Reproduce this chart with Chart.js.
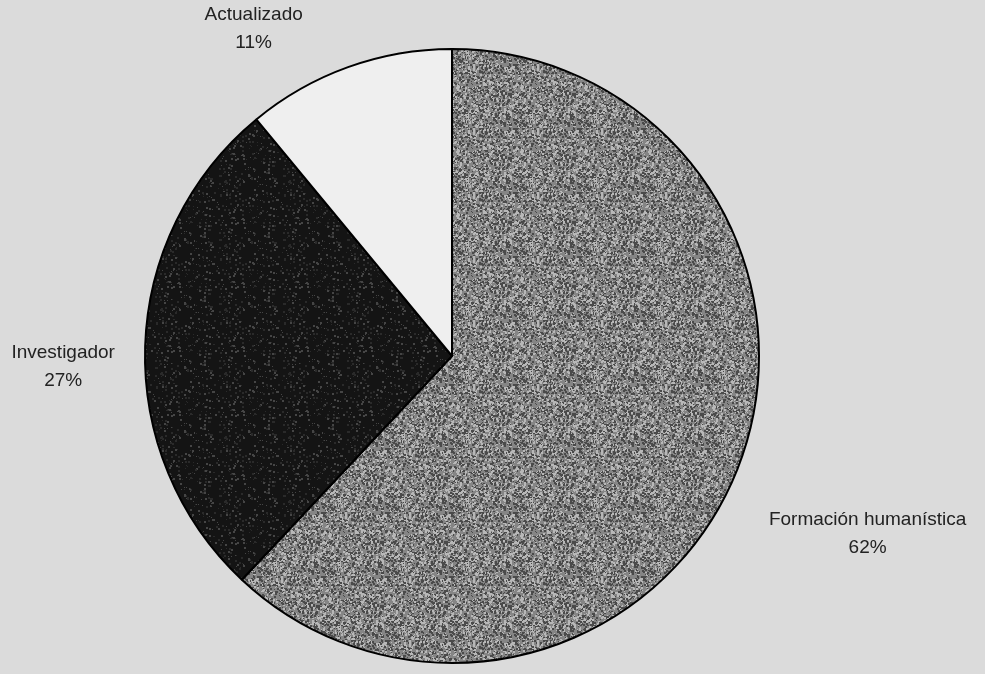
<!DOCTYPE html>
<html lang="es">
<head>
<meta charset="utf-8">
<title>Perfil</title>
<script src="https://cdn.jsdelivr.net/npm/chart.js@4.4.1/dist/chart.umd.min.js"></script>
<style>
    html, body { margin: 0; padding: 0; background: #dbdbdb; }
    #wrap { width: 985px; height: 674px; position: relative; }
</style>
</head>
<body>
<div id="wrap"><canvas id="pie" width="985" height="674"></canvas></div>
<script>
// --- Data ---
const categories = ['Formación humanística', 'Investigador', 'Actualizado'];
const percents = [62, 27, 11];

// label placement (distance past the rim, extra nudge) -- style only
const LABEL_PAD = [140, 80, 60];
const LABEL_SHIFT = [[0, 13], [-2, 23], [-74, 18]];

// --- Speckled fills (deterministic, like the scanned print texture) ---
function makeTexture(base, speck, amount) {
    const c = document.createElement('canvas');
    c.width = 64; c.height = 64;
    const g = c.getContext('2d');
    g.fillStyle = base;
    g.fillRect(0, 0, 64, 64);
    let seed = 12345;
    const next = () => { seed = (seed * 1103515245 + 12345) % 2147483648; return seed / 2147483648; };
    for (let i = 0; i < amount; i++) {
        const x = Math.floor(next() * 64), y = Math.floor(next() * 64);
        const s = 1 + Math.floor(next() * 2);
        g.fillStyle = next() < 0.55 ? speck[0] : speck[1];
        g.fillRect(x, y, s, s);
    }
    return g.createPattern(c, 'repeat');
}

const ctx = document.getElementById('pie').getContext('2d');
const grayFill = makeTexture('#858585', ['#4a4a4a', '#b8b8b8'], 1300);
const darkFill = makeTexture('#141414', ['#2a2a2a', '#454545'], 240);

// labels outside the pie
const labelPlugin = {
    id: 'outerLabels',
    afterDatasetsDraw(chart) {
        const c = chart.ctx;
        const arcs = chart.getDatasetMeta(0).data;
        c.save();
        c.font = '19px "Liberation Sans", Arial, sans-serif';
        c.fillStyle = '#222';
        c.textAlign = 'center';
        c.textBaseline = 'middle';
        arcs.forEach((arc, i) => {
            const p = arc.getProps(['x', 'y', 'startAngle', 'endAngle', 'outerRadius'], true);
            const mid = (p.startAngle + p.endAngle) / 2;
            const r = p.outerRadius + LABEL_PAD[i];
            const x = p.x + Math.cos(mid) * r + LABEL_SHIFT[i][0];
            const y = p.y + Math.sin(mid) * r + LABEL_SHIFT[i][1];
            c.fillText(categories[i], x, y - 14);
            c.fillText(percents[i] + '%', x, y + 14);
        });
        c.restore();
    }
};

new Chart(ctx, {
    type: 'pie',
    data: {
        labels: categories,
        datasets: [{
            data: percents,
            backgroundColor: [grayFill, darkFill, '#efefef'],
            borderColor: '#000',
            borderWidth: 2
        }]
    },
    options: {
        responsive: false,
        animation: false,
        layout: { padding: { left: 144, right: 225, top: 48, bottom: 10 } },
        plugins: {
            legend: { display: false },
            tooltip: { enabled: false }
        }
    },
    plugins: [labelPlugin]
});
</script>
</body>
</html>
